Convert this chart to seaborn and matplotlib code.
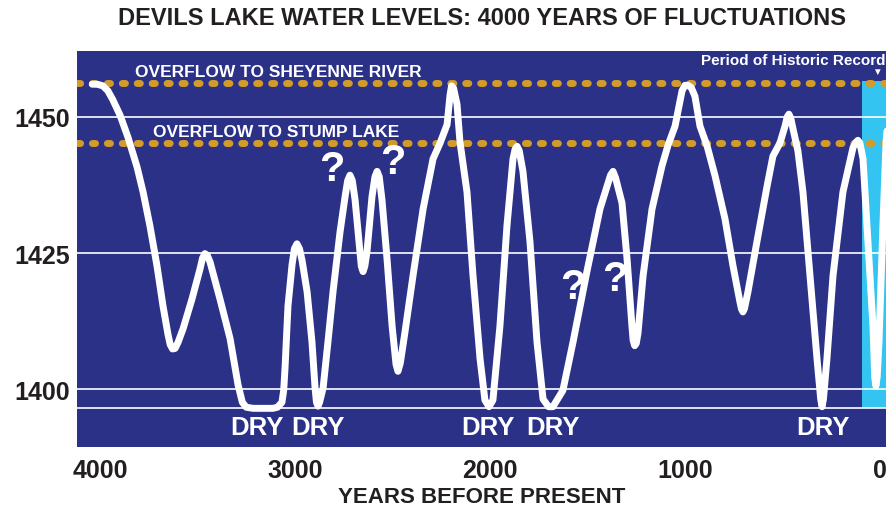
import numpy as np
import pandas as pd
import matplotlib
matplotlib.use("Agg")
import matplotlib.pyplot as plt
import seaborn as sns

# ---------------------------------------------------------------------------
# data
# ---------------------------------------------------------------------------
years = [4040, 4015, 3985, 3960, 3935, 3897, 3856, 3810, 3779, 3744, 3708,
         3677, 3651, 3640, 3628, 3615, 3600, 3574, 3528, 3487, 3474, 3462,
         3450, 3436, 3385, 3333, 3292, 3270, 3250, 3215, 3113, 3090, 3067,
         3058, 3051, 3036, 3015, 3003, 2990, 2977, 2964, 2938, 2913, 2897,
         2890, 2882, 2874, 2856, 2831, 2805, 2769, 2743, 2730, 2718, 2706,
         2692, 2667, 2660, 2651, 2642, 2631, 2605, 2590, 2579, 2568, 2554,
         2528, 2502, 2482, 2472, 2460, 2436, 2395, 2343, 2292, 2256, 2220,
         2205, 2197, 2187, 2169, 2154, 2118, 2087, 2051, 2026, 2005, 1985,
         1949, 1913, 1882, 1871, 1861, 1850, 1831, 1795, 1759, 1728, 1700,
         1677, 1626, 1574, 1503, 1436, 1382, 1369, 1356, 1323, 1297, 1272,
         1266, 1258, 1250, 1241, 1215, 1169, 1118, 1087, 1051, 1015, 1000,
         985, 968, 949, 923, 887, 846, 795, 754, 718, 710, 703, 695, 677,
         631, 579, 549, 513, 487, 476, 467, 457, 446, 421, 395, 359, 323,
         304, 297, 290, 272, 241, 190, 138, 122, 113, 103, 87, 62, 36, 27,
         21, 14, 5, -15, -31, -46]
levels = [1456.0, 1456.0, 1455.7, 1454.8, 1453.2, 1450.3, 1446.2, 1440.8,
          1436.2, 1430.0, 1422.7, 1415.3, 1410.0, 1408.2, 1407.4, 1407.5,
          1408.6, 1411.1, 1416.6, 1422.1, 1424.1, 1424.9, 1424.6, 1423.4,
          1416.6, 1409.3, 1400.8, 1397.6, 1396.7, 1396.5, 1396.5, 1396.7,
          1397.6, 1399.8, 1404.0, 1415.3, 1422.9, 1425.8, 1426.7, 1425.8,
          1423.7, 1417.9, 1408.7, 1400.2, 1397.6, 1396.9, 1397.6, 1400.2,
          1408.7, 1417.9, 1428.9, 1435.4, 1438.3, 1439.3, 1438.3, 1434.8,
          1425.4, 1422.6, 1421.6, 1422.6, 1425.2, 1435.4, 1439.0, 1440.0,
          1439.0, 1434.8, 1423.9, 1411.6, 1404.6, 1403.3, 1404.8, 1410.5,
          1420.8, 1433.1, 1442.3, 1445.2, 1448.6, 1454.0, 1455.7, 1455.3,
          1452.3, 1445.4, 1436.2, 1420.8, 1405.6, 1398.0, 1396.8, 1398.0,
          1411.6, 1430.0, 1442.3, 1444.1, 1444.6, 1443.8, 1440.0, 1427.1,
          1408.7, 1398.2, 1396.8, 1396.8, 1399.8, 1408.7, 1421.6, 1433.1,
          1439.3, 1440.0, 1438.8, 1434.2, 1423.9, 1411.6, 1409.0, 1408.0,
          1408.4, 1410.3, 1420.8, 1433.1, 1441.0, 1444.8, 1448.3, 1454.8,
          1455.8, 1455.8, 1455.4, 1453.8, 1448.3, 1444.7, 1439.2, 1431.3,
          1422.7, 1416.0, 1414.7, 1414.2, 1414.8, 1417.9, 1427.1, 1437.3,
          1442.8, 1445.2, 1448.3, 1450.0, 1450.5, 1449.7, 1447.8, 1443.8,
          1436.2, 1420.8, 1405.6, 1398.2, 1396.8, 1398.2, 1405.6, 1420.8,
          1436.2, 1444.4, 1445.4, 1445.7, 1445.2, 1442.3, 1427.1, 1411.6,
          1402.2, 1400.6, 1402.4, 1408.7, 1430.0, 1445.4, 1451.5]

overflow_levels = [1456.3, 1445.3]
overflow_labels = ["OVERFLOW TO SHEYENNE RIVER", "OVERFLOW TO STUMP LAKE"]
overflow_label_x = [3820, 3728]
overflow_label_y = [1458.4, 1447.3]
dry_level = 1396.6
historic_start = 92

dry_x = [3195, 2882, 2010, 1677, 292]
question_x = [2810, 2497, 1574, 1359]
question_y = [1440.5, 1441.7, 1418.8, 1420.3]

x_ticks = [4000, 3000, 2000, 1000, 0]
y_ticks = [1400, 1425, 1450]

# ---------------------------------------------------------------------------
# style
# ---------------------------------------------------------------------------
NAVY = "#2b3187"
GOLD = "#d39b29"
CYAN = "#33c4f2"
INK = "#231f20"

sns.set_style("dark", {"axes.facecolor": NAVY})
plt.rcParams["font.family"] = ["Liberation Sans", "DejaVu Sans"]

fig = plt.figure(figsize=(8.87, 5.10), dpi=100)
ax = fig.add_axes([77 / 887, 62 / 510, 810 / 887, 396 / 510])

# historic record band
ax.fill_between([historic_start, -60], dry_level, 1456.6, color=CYAN, lw=0, zorder=1)

# white reference lines
for lvl in y_ticks + [dry_level]:
    ax.axhline(lvl, color="white", lw=1.2, zorder=2)

# overflow thresholds (round gold dots)
for lvl in overflow_levels:
    ax.axhline(lvl, color=GOLD, lw=5, linestyle=(0, (0.45, 1.7)),
               dash_capstyle="round", zorder=3)

df = pd.DataFrame({"years": years, "level": levels})
sns.lineplot(data=df, x="years", y="level", sort=False, estimator=None,
             color="white", lw=5, ax=ax, zorder=4,
             solid_capstyle="round", solid_joinstyle="round")

# annotations
for lab, xx, yy in zip(overflow_labels, overflow_label_x, overflow_label_y):
    ax.text(xx, yy, lab, color="white", fontsize=12.5, fontweight="bold",
            ha="left", va="center", zorder=5)

for xx in dry_x:
    ax.text(xx, 1393.0, "DRY", color="white", fontsize=18.5, fontweight="bold",
            ha="center", va="center", zorder=5)

for xx, yy in zip(question_x, question_y):
    ax.text(xx, yy, "?", color="white", fontsize=30, fontweight="bold",
            ha="center", va="center", zorder=5)

ax.text(-26, 1460.4, "Period of Historic Record", color="white", fontsize=11,
        fontweight="bold", ha="right", va="center", zorder=5)
ax.text(15, 1458.4, "\u25bc", color="white", fontsize=7, ha="center",
        va="center", zorder=5)

# axes
ax.set_xlim(4118, -36)
ax.set_ylim(1389.4, 1462.1)
ax.set_xticks(x_ticks)
ax.set_yticks(y_ticks)
ax.grid(False)
for s in ax.spines.values():
    s.set_visible(False)
ax.tick_params(length=0, labelsize=18, labelcolor=INK)
ax.tick_params(axis="y", pad=5)
ax.tick_params(axis="x", pad=8)
for t in ax.get_xticklabels() + ax.get_yticklabels():
    t.set_fontweight("bold")

ax.set_xlabel("YEARS BEFORE PRESENT", fontsize=16, fontweight="bold",
              color=INK, labelpad=3)
ax.set_ylabel("")

fig.text(0.543, 0.964, "DEVILS LAKE WATER LEVELS: 4000 YEARS OF FLUCTUATIONS",
         ha="center", va="center", fontsize=17, fontweight="bold", color=INK)

fig.savefig("out.png", dpi=100)
